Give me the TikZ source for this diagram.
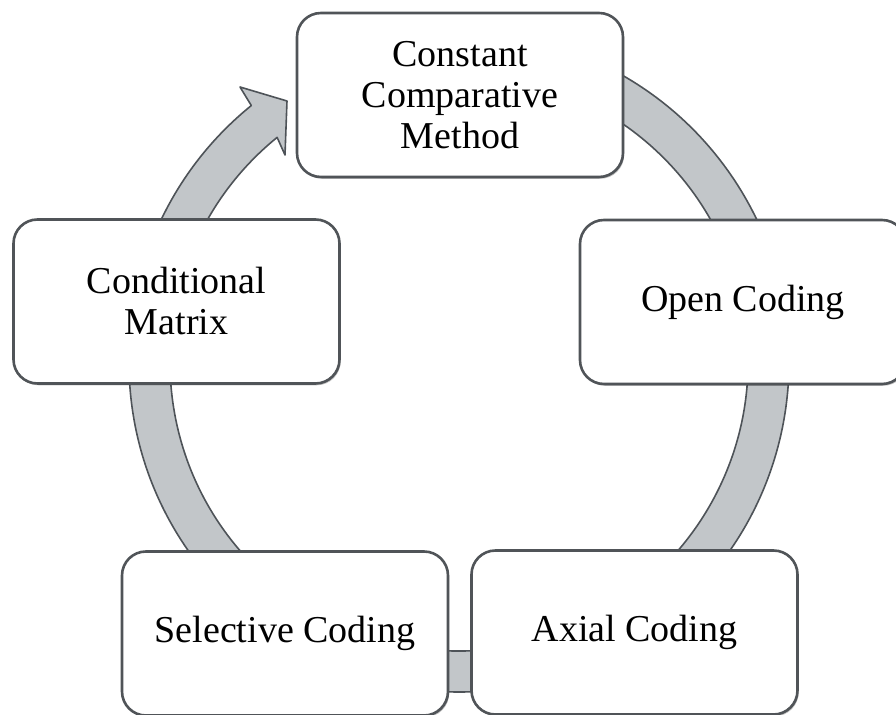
\documentclass[tikz,border=0pt]{standalone}
\usepackage{fontspec}
\setmainfont{Liberation Serif}
\usetikzlibrary{calc,shadows}
\definecolor{bandfill}{HTML}{C2C6C9}
\definecolor{bandline}{HTML}{4E5358}
\definecolor{boxline}{HTML}{505458}
\begin{document}
\begin{tikzpicture}[x=0.5pt,y=-0.5pt,
  stagebox/.style={draw=boxline, line width=1.3pt, fill=white, rounded corners=12pt,
    minimum width=163pt, minimum height=82pt, align=center, inner sep=0pt,
    font=\fontsize{19}{20.5}\selectfont,
    drop shadow={shadow xshift=0.6pt, shadow yshift=-0.9pt, opacity=0.25, fill=black}},
  band/.style={fill=bandfill, draw=bandline, line width=0.8pt, line join=round}]
\useasboundingbox (0,0) rectangle (896,715);
\clip (0,0) rectangle (896,715);
\coordinate (c) at (459,362);
% cyclic band with the arrow head pointing to the top box
\draw[band] ($(c)+(-129:330)$) arc[start angle=-129, end angle=-460, radius=330]
  -- ($(c)+(-460:289)$) arc[start angle=-460, end angle=-129, radius=289]
  -- (285,155) coordinate (barbin) -- (287,101) coordinate (tip) -- (240,87) coordinate (barbout) -- cycle;
\node[stagebox] (ccm)   at (460,95)      {Constant\\Comparative\\Method};
\node[stagebox] (open)  at (743,302)     {Open Coding};
\node[stagebox] (cond)  at (176.5,301.5) {Conditional\\Matrix};
\node[stagebox] (sel)   at (285,633.5)   {Selective Coding};
\node[stagebox] (axial) at (634.5,632.5) {Axial Coding};
\end{tikzpicture}
\end{document}
